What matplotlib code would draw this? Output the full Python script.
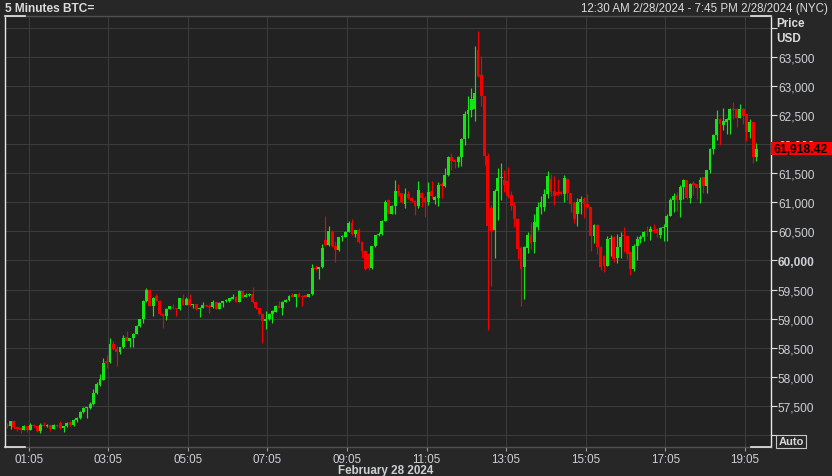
import matplotlib.pyplot as plt
from matplotlib.patches import Rectangle
import numpy as np

# 5 minute BTC candles, 00:30 -> 19:20 (2/28/2024)
opens = [57180, 57150, 57235, 57130, 57110, 57095, 57150, 57090, 57180, 57150,
         57070, 57180, 57160, 57170, 57110, 57175, 57200, 57120, 57150, 57230,
         57170, 57260, 57290, 57390, 57460, 57460, 57530, 57720, 57860, 57950,
         58280, 58250, 58570, 58470, 58430, 58510, 58680, 58620, 58660, 58740,
         58870, 58990, 59300, 59490, 59220, 59390, 59310, 59080, 59050, 59170,
         59200, 59180, 59160, 59340, 59240, 59330, 59230, 59250, 59160, 59190,
         59230, 59215, 59200, 59280, 59170, 59270, 59300, 59300, 59340, 59380,
         59290, 59470, 59380, 59400, 59420, 59280, 59180, 59080, 58960, 58990,
         59080, 59120, 59220, 59190, 59290, 59320, 59400, 59380, 59420, 59390,
         59400, 59380, 59420, 59870, 59850, 59880, 60350, 60260, 60480, 60240,
         60180, 60400, 60410, 60490, 60650, 60450, 60520, 60320, 60170, 60110,
         59870, 60240, 60430, 60455, 60685, 61030, 60800, 60943, 61200, 61150,
         60961, 61145, 61076, 61018, 60932, 61162, 61076, 61000, 61186, 61030,
         61070, 61310, 61280, 61460, 61780, 61730, 61690, 61780, 62080, 62510,
         62580, 62600, 63620, 63185, 62820, 61800, 60900, 60530, 61200, 61410,
         61380, 61370, 61120, 60940, 60720, 60220, 59880, 60207, 60436, 60310,
         60570, 60910, 60915, 61144, 61400, 61200, 61170, 61170, 61140, 61400,
         61150, 60990, 60800, 61000, 61050, 60970, 60910, 60415, 60610, 60226,
         60080, 59910, 60370, 60400, 60035, 60226, 60438, 60420, 60140, 59850,
         60255, 60360, 60400, 60510, 60480, 60530, 60540, 60440, 60550, 60570,
         60770, 61030, 61120, 61040, 61270, 61379, 61064, 61330, 61310, 61250,
         61425, 61282, 61550, 61920, 62150, 62430, 62330, 62370, 62410, 62600,
         62600, 62450, 62600, 62510, 62210, 62370, 61780]
highs = [57200, 57245, 57240, 57140, 57125, 57170, 57160, 57200, 57195, 57160,
         57200, 57220, 57190, 57180, 57190, 57185, 57240, 57160, 57220, 57250,
         57270, 57310, 57410, 57480, 57490, 57560, 57790, 57910, 58050, 58330,
         58380, 58670, 58620, 58530, 58520, 58720, 58780, 58670, 58750, 58890,
         59000, 59320, 59520, 59510, 59370, 59420, 59320, 59100, 59180, 59220,
         59250, 59190, 59360, 59420, 59380, 59420, 59260, 59260, 59200, 59280,
         59240, 59260, 59320, 59290, 59280, 59310, 59330, 59360, 59420, 59390,
         59490, 59480, 59440, 59440, 59540, 59290, 59190, 59100, 59130, 59090,
         59140, 59230, 59300, 59300, 59330, 59400, 59440, 59430, 59450, 59400,
         59410, 59430, 59940, 59930, 59890, 60280, 60760, 60600, 60520, 60340,
         60410, 60440, 60500, 60680, 60710, 60530, 60560, 60340, 60180, 60120,
         60250, 60440, 60480, 60700, 61030, 61050, 60960, 61390, 61320, 61160,
         61240, 61200, 61090, 61030, 61360, 61180, 61100, 61350, 61370, 61100,
         61350, 61350, 61580, 61790, 61850, 61750, 61800, 62100, 62560, 62830,
         62970, 63690, 63940, 63520, 62830, 61850, 60950, 61220, 61580, 61670,
         61560, 61600, 61200, 61000, 60730, 60250, 60250, 60480, 60660, 60800,
         61000, 61100, 61230, 61530, 61480, 61450, 61400, 61200, 61460, 61420,
         61160, 61000, 61070, 61100, 61090, 61140, 60920, 60620, 60630, 60240,
         60100, 60420, 60430, 60420, 60455, 60480, 60580, 60430, 60150, 60280,
         60420, 60430, 60500, 60590, 60590, 60620, 60560, 60580, 60620, 60800,
         61080, 61160, 61170, 61300, 61400, 61390, 61330, 61360, 61320, 61430,
         61440, 61560, 61930, 62180, 62580, 62440, 62620, 62450, 62610, 62720,
         62610, 62680, 62610, 62520, 62430, 62380, 62010]
lows = [57120, 57100, 57110, 57070, 57040, 57080, 57050, 57080, 57130, 57050,
        57030, 57150, 57140, 57070, 57100, 57140, 57100, 57060, 57140, 57160,
        57160, 57230, 57280, 57380, 57300, 57450, 57520, 57700, 57850, 57940,
        58150, 58230, 58460, 58180, 58400, 58500, 58610, 58510, 58510, 58730,
        58860, 58920, 59290, 59210, 59050, 59300, 59070, 58840, 58980, 59160,
        59170, 59050, 59150, 59230, 59230, 59220, 59180, 59150, 59020, 59180,
        59200, 59100, 59190, 59160, 59160, 59200, 59280, 59290, 59330, 59280,
        59280, 59350, 59370, 59390, 59270, 59170, 59070, 58580, 58830, 58980,
        58930, 59110, 59180, 59070, 59280, 59310, 59370, 59200, 59370, 59210,
        59370, 59370, 59400, 59840, 59680, 59870, 60240, 60250, 60230, 59980,
        60170, 60330, 60400, 60480, 60440, 60400, 60300, 60050, 59840, 59830,
        59860, 60230, 60420, 60440, 60670, 60790, 60790, 60790, 61100, 60990,
        60900, 61060, 61000, 60777, 60900, 60920, 60740, 60960, 61080, 60970,
        60930, 61080, 61270, 61450, 61560, 61580, 61600, 61620, 61980, 62100,
        62460, 62400, 63150, 62650, 61640, 58800, 59565, 60035, 60690, 61040,
        61180, 61080, 60870, 60580, 60020, 59220, 59340, 60120, 60200, 60120,
        60530, 60800, 60850, 61080, 61100, 60960, 61110, 61120, 61000, 61040,
        60830, 60650, 60600, 60800, 60730, 60900, 60170, 60300, 60110, 59840,
        59800, 59900, 60080, 59980, 59950, 60050, 60150, 60030, 59755, 59810,
        60000, 60300, 60330, 60420, 60350, 60470, 60400, 60380, 60330, 60330,
        60760, 60830, 60850, 60750, 61060, 61050, 60990, 61130, 61060, 60980,
        61160, 61160, 61500, 61820, 62070, 61990, 62240, 62170, 62170, 62430,
        62300, 62440, 62340, 62050, 62110, 61680, 61710]
closes = [57150, 57235, 57130, 57110, 57095, 57150, 57090, 57180, 57150, 57070,
          57180, 57160, 57170, 57110, 57175, 57160, 57120, 57150, 57210, 57170,
          57260, 57300, 57400, 57460, 57470, 57540, 57720, 57870, 57960, 58230,
          58240, 58570, 58470, 58430, 58510, 58660, 58620, 58660, 58740, 58880,
          58990, 59310, 59490, 59220, 59360, 59310, 59080, 59050, 59170, 59210,
          59180, 59160, 59350, 59240, 59330, 59230, 59250, 59160, 59190, 59230,
          59215, 59200, 59280, 59170, 59270, 59300, 59310, 59350, 59380, 59290,
          59470, 59360, 59410, 59420, 59280, 59180, 59080, 58960, 58990, 59080,
          59130, 59220, 59190, 59290, 59320, 59390, 59380, 59420, 59380, 59370,
          59380, 59420, 59870, 59850, 59880, 60210, 60260, 60510, 60240, 60180,
          60400, 60420, 60490, 60650, 60450, 60520, 60310, 60170, 59860, 59870,
          60240, 60430, 60460, 60685, 61010, 60800, 60943, 61200, 61150, 61007,
          61145, 61076, 61018, 60932, 61202, 61076, 61000, 61180, 61100, 61090,
          61300, 61280, 61460, 61770, 61700, 61690, 61780, 62080, 62510, 62580,
          62770, 62880, 63175, 62820, 61800, 60600, 60510, 61200, 61410, 61440,
          61300, 61110, 60940, 60710, 60195, 59860, 60226, 60436, 60293, 60656,
          60910, 61000, 61144, 61456, 61173, 61115, 61120, 61140, 61420, 61150,
          60970, 60710, 61000, 61050, 60970, 60910, 60415, 60610, 60226, 59880,
          59910, 60370, 60390, 60020, 60226, 60400, 60415, 60110, 59850, 60255,
          60370, 60400, 60480, 60480, 60540, 60510, 60470, 60550, 60570, 60770,
          61030, 61115, 61040, 61270, 61379, 61064, 61310, 61300, 61250, 61390,
          61282, 61550, 61920, 62150, 62430, 62340, 62400, 62430, 62600, 62590,
          62450, 62600, 62480, 62210, 62370, 61770, 61918.42]

start_min = 30   # first candle 00:30
step = 5         # minutes per candle
x_tick_min = [65, 185, 305, 425, 545, 665, 785, 905, 1025, 1145]
x_tick_lab = ["01:05", "03:05", "05:05", "07:05", "09:05",
              "11:05", "13:05", "15:05", "17:05", "19:05"]
y_grid = list(range(57000, 64001, 500))
last_price = closes[-1]

W, H = 832, 477
bg = "#272727"
plot_bg = "#212221"
txt = "#cdd0d3"
up_col = "#14e614"
dn_col = "#f50000"

o = np.array(opens, float); h = np.array(highs, float)
l = np.array(lows, float); c = np.array(closes, float)
x = start_min + step * np.arange(len(o)) + step / 2
up = c >= o
cols = np.where(up, up_col, dn_col)

fig = plt.figure(figsize=(W / 100, H / 100), dpi=100, facecolor=bg)
ax = fig.add_axes([5 / W, 1 - 448 / H, 766 / W, 431 / H], facecolor=plot_bg)

# candles
ax.vlines(x, l, h, colors=cols, linewidth=0.85, zorder=2)
body_h = np.maximum(np.abs(c - o), 18)
ax.bar(x, body_h, bottom=np.minimum(o, c), width=step * 0.86,
       color=cols, linewidth=0, zorder=3)

ax.set_xlim(29.1, 1184.5)
ax.set_ylim(56795, 64199)

ax.set_xticks(x_tick_min)
ax.set_xticklabels(x_tick_lab)
ax.set_yticks(y_grid)
ylabs = ["" if (v == 57000 or v == 64000) else f"{v:,}" for v in y_grid]
ax.set_yticklabels(ylabs)
ax.yaxis.tick_right()
for t in ax.get_yticklabels():
    t.set_fontfamily("Liberation Sans")
    if t.get_text() == "60,000":
        t.set_fontweight("bold")
for t in ax.get_xticklabels():
    t.set_fontfamily("Liberation Sans")

ax.tick_params(axis="y", colors="#e0e0e0", labelcolor=txt, labelsize=8.6,
               length=4, width=0.8, pad=1)
ax.tick_params(axis="x", colors="#9a9a9a", labelcolor=txt, labelsize=8.4,
               length=3, width=0.8, pad=1.5)
ax.grid(True, color="#3a3b3a", linewidth=0.75)
ax.set_axisbelow(True)

ax.spines["left"].set_color("#e8e8e8")
ax.spines["right"].set_color("#e8e8e8")
ax.spines["top"].set_color("#505050")
ax.spines["bottom"].set_color("#505050")
for s in ax.spines.values():
    s.set_linewidth(1.0)
# white corner brackets on top / bottom edges
cw = 20 / 766
for yy in (0, 1):
    ax.plot([0, cw], [yy, yy], color="#e8e8e8", lw=1.2, transform=ax.transAxes, clip_on=False, zorder=5)
    ax.plot([1 - cw, 1], [yy, yy], color="#e8e8e8", lw=1.2, transform=ax.transAxes, clip_on=False, zorder=5)

# header texts
fig.text(5 / W, 1 - 9 / H, "5 Minutes BTC=", color="#dcdcdc", fontsize=8.6,
         fontweight="bold", family="Liberation Sans", va="center", ha="left")
fig.text(828 / W, 1 - 9 / H, "12:30 AM 2/28/2024 - 7:45 PM 2/28/2024 (NYC)",
         color="#dcdcdc", fontsize=8.3, family="Liberation Sans", va="center", ha="right")
fig.text(776 / W, 1 - 24 / H, "Price", color="#dcdcdc", fontsize=8.4,
         fontweight="bold", family="Liberation Sans", va="center")
fig.text(776 / W, 1 - 39 / H, "USD", color="#dcdcdc", fontsize=8.4,
         fontweight="bold", family="Liberation Sans", va="center")
fig.text(386 / W, 1 - 471 / H, "February 28 2024", color=txt, fontsize=8.4,
         fontweight="bold", family="Liberation Sans", va="center", ha="center")

# last price box
yp = ax.transData.transform((0, last_price))[1] / H
fig.patches.append(Rectangle((771 / W, yp - 6.5 / H), 61 / W, 13 / H,
                             transform=fig.transFigure, facecolor="#ff0000",
                             edgecolor="none", zorder=4))
fig.text(773 / W, yp, f"{last_price:,.2f}", color="black", fontsize=8.7,
         fontweight="bold", family="Liberation Sans", va="center", ha="left", zorder=5)

# Auto button
fig.patches.append(Rectangle((776 / W, 1 - 449 / H), 30 / W, 13 / H,
                             transform=fig.transFigure, facecolor="none",
                             edgecolor="#c8c8c8", linewidth=0.8, zorder=4))
fig.text(791 / W, 1 - 442.5 / H, "Auto", color="#d8d8d8", fontsize=8,
         fontweight="bold", family="Liberation Sans", va="center", ha="center", zorder=5)

fig.savefig("out.png", dpi=100, facecolor=bg)
